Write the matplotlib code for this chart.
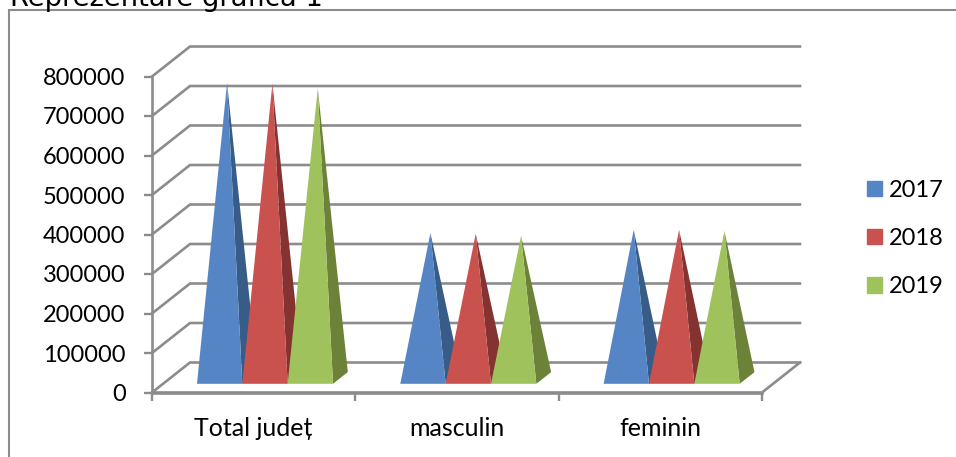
import matplotlib
matplotlib.use('Agg')
import matplotlib.pyplot as plt
from matplotlib.patches import Patch, Rectangle

# Values
categories = ['Total județ', 'masculin', 'feminin']
years = ['2017', '2018', '2019']
values_2017 = [747000, 367000, 375000]
values_2018 = [745000, 365000, 375000]
values_2019 = [733000, 360000, 372000]
y_ticks = [0, 100000, 200000, 300000, 400000, 500000, 600000, 700000, 800000]

front_colors = ['#5585C5', '#C9524F', '#A0C25C']
side_colors = ['#375C87', '#843331', '#6B8238']
grid_color = '#8C8C8C'
label_font = ['Lato', 'Noto Sans', 'DejaVu Sans']

W, H = 956, 457
fig = plt.figure(figsize=(W / 100, H / 100), dpi=100)

# axes is the front plane of the 3d box
left, right, bottom, top = 152, 762, 392.5, 76.5
ax = fig.add_axes([left / W, 1 - bottom / H, (right - left) / W, (bottom - top) / H])
ax.set_xlim(0, 3)
ax.set_ylim(0, 800000)
ax.patch.set_alpha(0)

# depth of the box in data units (38 px right, 30 px up)
depth_x = 38 / ((right - left) / 3)
depth_y = 30 / ((bottom - top) / 800000)


def proj(x, v, d):
    return x + d * depth_x, v + d * depth_y


# walls and floor
for v in y_ticks:
    x0, y0 = proj(0, v, 1)
    x1, y1 = proj(3, v, 1)
    ax.plot([0, x0, x1], [v, y0, y1], color=grid_color, lw=1.9, clip_on=False, zorder=1)
xr, yr = proj(3, 0, 1)
ax.plot([0, 3, xr], [0, 0, yr], color=grid_color, lw=1.9, clip_on=False, zorder=1)

# pyramids, drawn left to right so each one covers the side of the previous
bar_w = 0.223
start = 0.167
d_front, d_mid, d_back = 0.29, 0.485, 0.68
series = [values_2017, values_2018, values_2019]
for c in range(len(categories)):
    for s in range(len(series)):
        x0 = c + start + s * bar_w
        x1 = x0 + bar_w
        apex = proj((x0 + x1) / 2, series[s][c], d_mid)
        side = [proj(x1, 0, d_front), proj(x1, 0, d_back), apex]
        front = [proj(x0, 0, d_front), proj(x1, 0, d_front), apex]
        ax.fill(*zip(*side), color=side_colors[s], lw=0, clip_on=False, zorder=3)
        ax.fill(*zip(*front), color=front_colors[s], lw=0, clip_on=False, zorder=3)

for name in ['top', 'right']:
    ax.spines[name].set_visible(False)
for name in ['left', 'bottom']:
    ax.spines[name].set_color(grid_color)
    ax.spines[name].set_linewidth(1.9)

ax.set_yticks(y_ticks)
ax.set_yticklabels([str(v) for v in y_ticks], fontsize=17, family=label_font)
ax.set_xticks([0, 1, 2, 3])
ax.set_xticklabels([])
ax.set_xticks([0.5, 1.5, 2.5], minor=True)
ax.set_xticklabels(categories, minor=True, fontsize=18, family=label_font)
ax.tick_params(axis='both', which='major', color=grid_color, width=1.7, length=6)
ax.tick_params(axis='x', which='minor', length=0, pad=18)
ax.tick_params(axis='y', pad=13)

# legend
handles = [Patch(color=front_colors[i], label=years[i]) for i in range(3)]
fig.legend(handles=handles, loc='upper left', bbox_to_anchor=(867 / W, 1 - 180 / H),
           frameon=False, prop={'family': label_font, 'size': 17},
           handlelength=0.62, handleheight=0.62, handletextpad=0.3,
           labelspacing=1.15, borderpad=0, borderaxespad=0)

# chart frame and the cut off heading above it
fig.add_artist(Rectangle((9 / W, -0.05), 0.99 - 9 / W + 0.02, 1.05 - 10 / H, fill=False,
                         edgecolor=grid_color, lw=1.5, transform=fig.transFigure))
fig.text(10 / W, 1 - 5.5 / H, 'Reprezentare grafică 1', fontsize=19.7, family='DejaVu Sans',
         color='black', va='baseline', ha='left')

fig.savefig('out.png', dpi=100)
